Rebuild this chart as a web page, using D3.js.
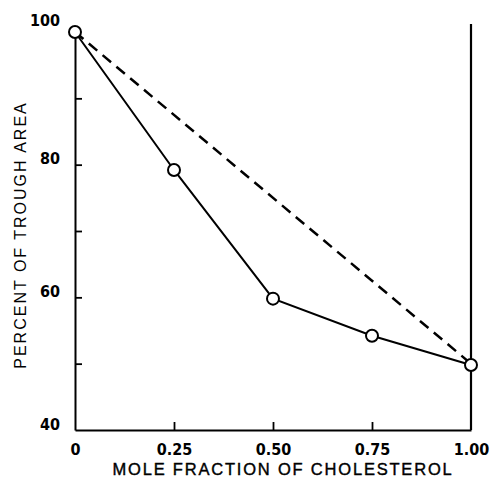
<!DOCTYPE html>
<html>
<head>
<meta charset="utf-8">
<script src="https://cdn.jsdelivr.net/npm/d3@7"></script>
<style>
  body { margin: 0; background: #fff; }
  svg { display: block; }
</style>
</head>
<body>
<svg></svg>
<script>
// measured points (mole fraction vs percent of trough area)
let molFraction = [0, 0.25, 0.5, 0.75, 1.0]
let troughArea = [100, 79.2, 59.8, 54.2, 49.8]

// ideal mixing line (dashed)
let idealX = [0, 1.0]
let idealY = [100, 50]

let xTicks = [0, 0.25, 0.5, 0.75, 1.0]
let xTickLabels = ['0', '0.25', '0.50', '0.75', '1.00']
let yTicks = [40, 50, 60, 70, 80, 90, 100]
let yTickLabels = ['40', '', '60', '', '80', '', '100']

let width = 491
let height = 479

let svg = d3.select('svg')
    .attr('width', width)
    .attr('height', height)

let xScale = d3.scaleLinear()
    .domain([0, 1])
    .range([75, 471])

let yScale = d3.scaleLinear()
    .domain([40, 100])
    .range([430, 32])

let lblFont = '"DejaVu Sans Condensed", "Liberation Sans Narrow", "Liberation Sans", Arial, sans-serif'

// axes
let xAxis = d3.axisBottom(xScale)
    .tickValues(xTicks)
    .tickFormat((d, i) => xTickLabels[i])
    .tickSize(-8)
    .tickSizeOuter(0)
    .tickPadding(14)

let yAxis = d3.axisLeft(yScale)
    .tickValues(yTicks)
    .tickFormat((d, i) => yTickLabels[i])
    .tickSize(-7)
    .tickSizeOuter(0)
    .tickPadding(15)

let gx = svg.append('g')
    .attr('transform', 'translate(0,' + yScale(40) + ')')
    .call(xAxis)

let gy = svg.append('g')
    .attr('transform', 'translate(' + xScale(0) + ',0)')
    .call(yAxis)

;[gx, gy].forEach(g => {
    g.select('.domain').attr('stroke', '#000').attr('stroke-width', 2)
    g.selectAll('.tick line').attr('stroke', '#000').attr('stroke-width', 1.8)
    g.selectAll('.tick text')
        .attr('fill', '#000')
        .style('font-family', lblFont)
        .style('font-stretch', 'condensed')
        .style('font-size', '16px')
        .style('font-weight', 'bold')
})
gx.selectAll('.tick line').filter(d => d === 0 || d === 1).remove()
gy.selectAll('.tick line').filter(d => d === 40 || d === 100).remove()
gy.selectAll('.tick text').attr('dy', '-0.05em')
gy.selectAll('.tick text').filter(d => d === 100).attr('dy', '-0.4em')

// right vertical line at x = 1.00
svg.append('line')
    .attr('x1', xScale(1)).attr('x2', xScale(1))
    .attr('y1', yScale(40)).attr('y2', yScale(101.2))
    .attr('stroke', '#000')
    .attr('stroke-width', 2.2)

// dashed ideal line
let line = d3.line()
    .x(d => xScale(d[0]))
    .y(d => yScale(d[1]))

svg.append('path')
    .datum(idealX.map((x, i) => [x, idealY[i]]))
    .attr('d', line)
    .attr('fill', 'none')
    .attr('stroke', '#000')
    .attr('stroke-width', 2.5)
    .attr('stroke-dasharray', '11,7')

// measured line
let pts = molFraction.map((x, i) => [x, troughArea[i]])
svg.append('path')
    .datum(pts)
    .attr('d', line)
    .attr('fill', 'none')
    .attr('stroke', '#000')
    .attr('stroke-width', 2)

svg.selectAll('circle')
    .data(pts)
    .enter()
    .append('circle')
    .attr('cx', d => xScale(d[0]))
    .attr('cy', d => yScale(d[1]))
    .attr('r', 6)
    .attr('fill', '#fff')
    .attr('stroke', '#000')
    .attr('stroke-width', 2)

// axis titles
svg.append('text')
    .attr('x', 283)
    .attr('y', 475)
    .attr('text-anchor', 'middle')
    .style('font-family', '"Liberation Sans", Arial, sans-serif')
    .style('font-size', '16.5px')
    .style('letter-spacing', '1.8px')
    .style('stroke', '#000')
    .style('stroke-width', '0.4px')
    .text('MOLE FRACTION OF CHOLESTEROL')

svg.append('text')
    .attr('transform', 'translate(26,235) rotate(-90)')
    .attr('text-anchor', 'middle')
    .style('font-family', '"Liberation Sans", Arial, sans-serif')
    .style('font-size', '16px')
    .style('letter-spacing', '2px')
    .text('PERCENT OF TROUGH AREA')
</script>
</body>
</html>
